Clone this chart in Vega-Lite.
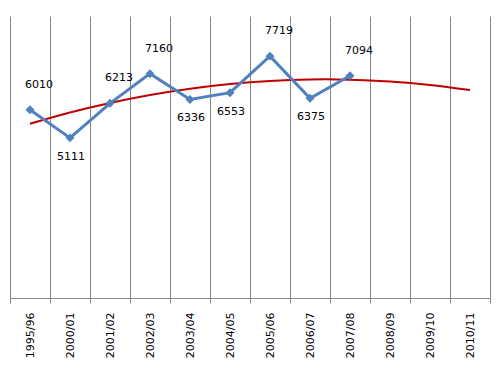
{
  "$schema": "https://vega.github.io/schema/vega-lite/v6.json",
  "width": 480,
  "height": 282,
  "autosize": {"type": "none"},
  "padding": {"left": 10, "top": 16, "right": 9, "bottom": 80},
  "background": "white",
  "config": {"view": {"stroke": null}, "font": "DejaVu Sans"},
  "datasets": {
    "main": [
      {"season": "1995/96", "value": 6010},
      {"season": "2000/01", "value": 5111},
      {"season": "2001/02", "value": 6213},
      {"season": "2002/03", "value": 7160},
      {"season": "2003/04", "value": 6336},
      {"season": "2004/05", "value": 6553},
      {"season": "2005/06", "value": 7719},
      {"season": "2006/07", "value": 6375},
      {"season": "2007/08", "value": 7094}
    ],
    "trend": [
      {"season": "1995/96", "trend": 5563},
      {"season": "2000/01", "trend": 5921},
      {"season": "2001/02", "trend": 6226},
      {"season": "2002/03", "trend": 6479},
      {"season": "2003/04", "trend": 6681},
      {"season": "2004/05", "trend": 6830},
      {"season": "2005/06", "trend": 6928},
      {"season": "2006/07", "trend": 6974},
      {"season": "2007/08", "trend": 6968},
      {"season": "2008/09", "trend": 6910},
      {"season": "2009/10", "trend": 6800},
      {"season": "2010/11", "trend": 6638}
    ]
  },
  "encoding": {
    "x": {
      "field": "season",
      "type": "ordinal",
      "scale": {
        "domain": ["1995/96","2000/01","2001/02","2002/03","2003/04","2004/05","2005/06","2006/07","2007/08","2008/09","2009/10","2010/11"],
        "paddingInner": 0,
        "paddingOuter": 0
      },
      "axis": {
        "title": null,
        "tickBand": "extent",
        "grid": true,
        "gridColor": "#868686",
        "gridWidth": 1,
        "gridOpacity": 1,
        "domainColor": "#868686",
        "tickColor": "#868686",
        "tickSize": 5,
        "labelAngle": -90,
        "labelAlign": "right",
        "labelBaseline": "middle",
        "labelPadding": 9,
        "labelFontSize": 11,
        "labelColor": "#000000",
        "labelFont": "DejaVu Sans"
      }
    }
  },
  "layer": [
    {
      "data": {"name": "trend"},
      "mark": {"type": "line", "color": "#C00000", "strokeWidth": 2, "interpolate": "natural"},
      "encoding": {
        "y": {"field": "trend", "type": "quantitative", "scale": {"domain": [0, 9000], "nice": false, "zero": true}, "axis": null}
      }
    },
    {
      "data": {"name": "main"},
      "mark": {"type": "line", "color": "#4F81BD", "strokeWidth": 3},
      "encoding": {
        "y": {"field": "value", "type": "quantitative", "scale": {"domain": [0, 9000], "nice": false}, "axis": null}
      }
    },
    {
      "data": {"name": "main"},
      "mark": {"type": "point", "shape": "diamond", "filled": true, "color": "#4F81BD", "size": 80, "opacity": 1},
      "encoding": {
        "y": {"field": "value", "type": "quantitative", "scale": {"domain": [0, 9000], "nice": false}, "axis": null}
      }
    },
    {
      "data": {"name": "main"},
      "transform": [{"filter": {"field": "season", "oneOf": ["1995/96", "2001/02", "2002/03", "2005/06", "2007/08"]}}],
      "mark": {"type": "text", "dx": 9, "dy": -25, "fontSize": 11, "font": "DejaVu Sans", "color": "#000000", "baseline": "middle"},
      "encoding": {
        "y": {"field": "value", "type": "quantitative", "scale": {"domain": [0, 9000], "nice": false}, "axis": null},
        "text": {"field": "value", "type": "quantitative", "format": "d"}
      }
    },
    {
      "data": {"name": "main"},
      "transform": [{"filter": {"field": "season", "oneOf": ["2000/01", "2003/04", "2004/05", "2006/07"]}}],
      "mark": {"type": "text", "dx": 1, "dy": 19, "fontSize": 11, "font": "DejaVu Sans", "color": "#000000", "baseline": "middle"},
      "encoding": {
        "y": {"field": "value", "type": "quantitative", "scale": {"domain": [0, 9000], "nice": false}, "axis": null},
        "text": {"field": "value", "type": "quantitative", "format": "d"}
      }
    }
  ]
}
